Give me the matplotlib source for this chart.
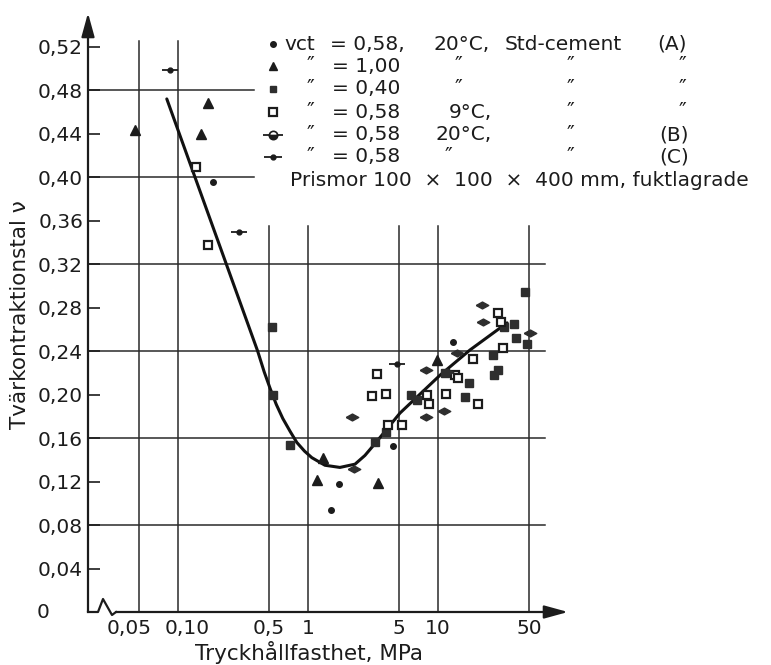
import matplotlib.pyplot as plt
import numpy as np
from matplotlib.ticker import NullLocator
from matplotlib.transforms import ScaledTranslation

plt.rcParams['font.family'] = ['DejaVu Sans']

W, H = 771, 665
INK = '#1c1c1c'

# vct = 0,58, 20 C, Std-cement (A)
std_p = [0.186, 1.5, 1.73, 4.5, 13.0]
std_v = [0.396, 0.094, 0.118, 0.153, 0.248]

# vct = 1,00
vct100_p = [0.047, 0.150, 0.170, 1.17, 1.3, 3.45, 9.8]
vct100_v = [0.443, 0.440, 0.468, 0.121, 0.142, 0.119, 0.232]

# vct = 0,40
vct040_p = [0.53, 0.54, 0.73, 3.28, 3.98, 6.2, 6.9, 11.3, 16.1, 17.3,
            26.5, 27.0, 29.0, 32.0, 38.5, 40.0, 46.7, 48.0]
vct040_v = [0.262, 0.200, 0.154, 0.156, 0.166, 0.200, 0.195, 0.220, 0.198, 0.211,
            0.236, 0.218, 0.223, 0.262, 0.265, 0.252, 0.294, 0.247]

# vct = 0,58, 9 C
cold_p = [0.137, 0.17, 3.1, 3.4, 4.0, 4.1, 5.3, 8.2, 8.5, 11.5,
          13.5, 14.2, 18.6, 20.3, 29.0, 30.5, 31.6]
cold_v = [0.409, 0.338, 0.199, 0.219, 0.201, 0.172, 0.172, 0.200, 0.191, 0.201,
          0.218, 0.215, 0.233, 0.191, 0.275, 0.267, 0.243]

# vct = 0,58, 20 C, cement B
cemb_p = [2.18, 2.26, 8.1, 8.1, 11.1, 11.7, 14.0, 21.8, 22.0, 51.0]
cemb_v = [0.179, 0.132, 0.223, 0.179, 0.185, 0.221, 0.238, 0.282, 0.267, 0.257]

# vct = 0,58, cement C
cemc_p = [0.087, 0.294, 4.8]
cemc_v = [0.499, 0.350, 0.228]

# fitted curve
curve_p = [0.082, 0.41, 0.46, 0.51, 0.57, 0.64, 0.73, 0.82, 0.94, 1.07,
           1.35, 1.76, 2.3, 2.74, 3.28, 5.1, 10.4, 17.6, 34.0]
curve_v = [0.472, 0.240, 0.221, 0.206, 0.191, 0.178, 0.166, 0.156, 0.148, 0.142,
           0.135, 0.133, 0.136, 0.144, 0.155, 0.183, 0.218, 0.241, 0.266]

yticks = [0.04, 0.08, 0.12, 0.16, 0.20, 0.24, 0.28, 0.32, 0.36, 0.40, 0.44, 0.48, 0.52]
xticks = [0.05, 0.1, 0.5, 1, 5, 10, 50]
xtick_labels = ['0,05', '0,10', '0,5', '1', '5', '10', '50']

grid_v = [0.08, 0.16, 0.24, 0.32, 0.40, 0.48]
grid_v_end = [66, 66, 66, 66, 0.384, 0.384]
grid_p_top = [0.525, 0.525, 0.355, 0.355, 0.355, 0.355, 0.355]

fig = plt.figure(figsize=(W / 100, H / 100), dpi=100)
ax = fig.add_axes([88 / W, 53 / H, 480 / W, 599 / H])
ax.set_xscale('log')
xmin = 10 ** (-220 / 130)
ax.set_xlim(xmin, 100)
ax.set_ylim(0, 599 / 1087)
for s in ax.spines.values():
    s.set_visible(False)

# grid
for v, end in zip(grid_v, grid_v_end):
    ax.plot([xmin, end], [v, v], color='#2a2a2a', lw=1.1, zorder=1)
for p, top in zip(xticks, grid_p_top):
    ax.plot([p, p], [0, top], color='#2a2a2a', lw=1.1, zorder=1)

# ticks
ax.set_yticks(yticks)
ax.set_yticklabels([('%.2f' % t).replace('.', ',') for t in yticks])
ax.tick_params(axis='y', direction='in', length=8.6, width=1.2, pad=3.6,
               labelsize=14.5, color=INK, labelcolor=INK)
ax.set_xticks(xticks)
ax.set_xticklabels(xtick_labels)
ax.xaxis.set_minor_locator(NullLocator())
ax.tick_params(axis='x', length=0, pad=5, labelsize=14.5, labelcolor=INK)
lbls = ax.get_xticklabels()
lbls[0].set_transform(lbls[0].get_transform() + ScaledTranslation(-0.10, 0, fig.dpi_scale_trans))
lbls[1].set_transform(lbls[1].get_transform() + ScaledTranslation(0.09, 0, fig.dpi_scale_trans))

def fpos(x, y):
    return x / W, 1 - y / H

def apos(x, y):
    return (x - 88) / 480, (612 - y) / 599

fig.text(*fpos(37, 612), '0', ha='left', va='center', fontsize=14.5, color=INK)

# axes with arrows and the break on the x axis
arrow = dict(arrowstyle='-|>,head_length=0.8,head_width=0.22', mutation_scale=18,
             lw=1.6, color=INK, shrinkA=0, shrinkB=0)
ax.annotate('', xy=(0, 1), xytext=(0, 0), xycoords='axes fraction', arrowprops=arrow)
zig = [apos(88, 612), apos(98, 612), apos(103, 599), apos(112, 615), apos(116, 612)]
ax.plot([z[0] for z in zig], [z[1] for z in zig], color=INK, lw=1.6,
        transform=ax.transAxes, clip_on=False)
ax.annotate('', xy=(1, 0), xytext=apos(116, 612), xycoords='axes fraction', arrowprops=arrow)

fig.text(*fpos(309, 653), 'Tryckhållfasthet, MPa', ha='center', va='center',
         fontsize=15.5, color=INK)
fig.text(*fpos(20, 315), 'Tvärkontraktionstal ν', ha='center', va='center',
         rotation=90, fontsize=15.5, color=INK)

# curve
ax.plot(curve_p, curve_v, color='#111111', lw=2.2, zorder=3, solid_capstyle='round')

flat_diamond = [(-1, 0), (0, 0.55), (1, 0), (0, -0.55), (-1, 0)]

ax.plot(std_p, std_v, ls='none', marker='o', ms=4, color=INK, zorder=4)
ax.plot(vct100_p, vct100_v, ls='none', marker='^', ms=6.5, color=INK, zorder=4)
ax.plot(vct040_p, vct040_v, ls='none', marker='s', ms=5.5, color='#2e2e2e', zorder=4)
ax.plot(cold_p, cold_v, ls='none', marker='s', ms=6, mfc='white', mec=INK, mew=1.6, zorder=4)
ax.plot(cemb_p, cemb_v, ls='none', marker=flat_diamond, ms=9, color='#2e2e2e', zorder=4)
ax.plot(cemc_p, cemc_v, ls='none', marker='_', ms=12, mew=1.3, color=INK, zorder=4)
ax.plot(cemc_p, cemc_v, ls='none', marker='o', ms=3.5, color=INK, zorder=4)

# key
def key_marker(y, **kw):
    x, yy = fpos(273, y)
    ax.plot([x], [yy], transform=fig.transFigure, clip_on=False, ls='none', **kw)

def key_text(x, y, s, ha='left', size=14.5):
    fig.text(*fpos(x, y), s, ha=ha, va='center', fontsize=size, color=INK)

def ditto(x, y):
    key_text(x, y, '″', ha='center', size=15)

rows = [44, 66, 89, 112, 135, 157]
key_marker(rows[0], marker='o', ms=4, color=INK)
key_marker(rows[1], marker='^', ms=6, color=INK)
key_marker(rows[2], marker='s', ms=5, color='#2e2e2e')
key_marker(rows[3], marker='s', ms=6, mfc='white', mec=INK, mew=1.6)
key_marker(rows[4], marker='_', ms=14, mew=1.3, color=INK)
key_marker(rows[4], marker='o', ms=6, fillstyle='bottom', color=INK, mfc=INK, mfcalt='white', mew=1.2)
key_marker(rows[5], marker='_', ms=13, mew=1.3, color=INK)
key_marker(rows[5], marker='o', ms=3.5, color=INK)

key_text(284, rows[0], 'vct')
key_text(330, rows[0], '= 0,58,')
key_text(490, rows[0], '20°C,', ha='right')
key_text(505, rows[0], 'Std-cement')
key_text(672, rows[0], '(A)', ha='center')

key_text(332, rows[1], '= 1,00')
key_text(332, rows[2], '= 0,40')
key_text(332, rows[3], '= 0,58')
key_text(332, rows[4], '= 0,58')
key_text(332, rows[5], '= 0,58')
for y in rows[1:]:
    ditto(310, y)
    ditto(570, y)
for y in rows[1:3]:
    ditto(458, y)
ditto(448, rows[5])
key_text(492, rows[3], '9°C,', ha='right')
key_text(492, rows[4], '20°C,', ha='right')
for y in rows[1:4]:
    ditto(682, y)
key_text(674, rows[4], '(B)', ha='center')
key_text(674, rows[5], '(C)', ha='center')
key_text(290, 180, 'Prismor 100  ×  100  ×  400 mm, fuktlagrade')

fig.savefig('out.png', dpi=100, facecolor='white')
